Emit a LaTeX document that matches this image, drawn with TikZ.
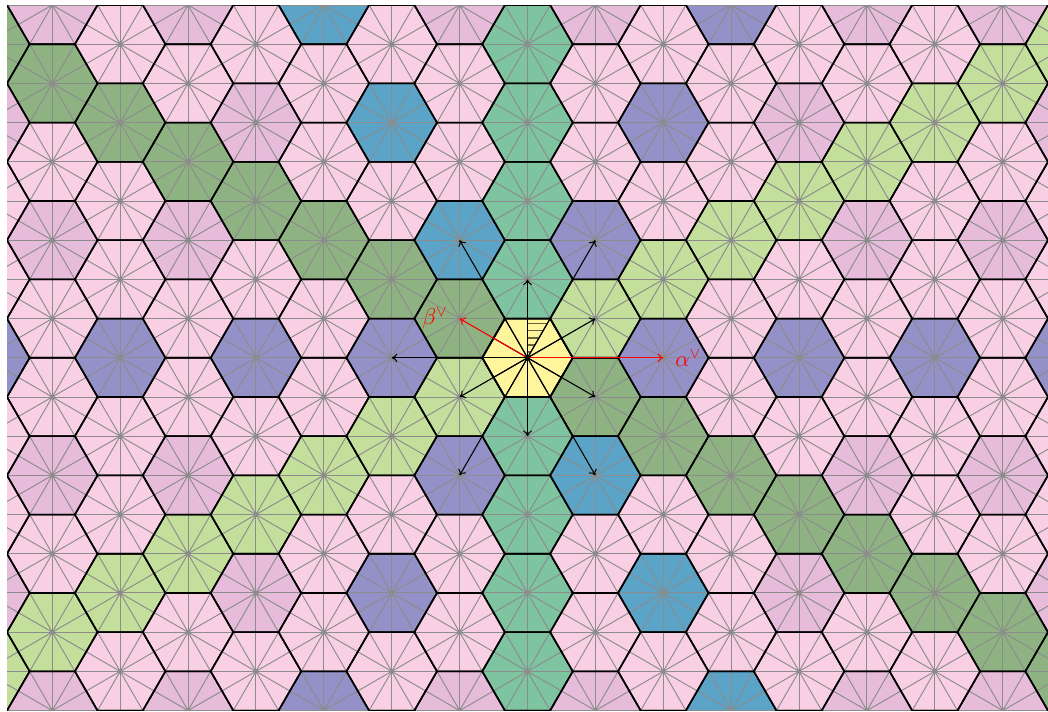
\documentclass[tikz,border=0pt]{standalone}
\usepackage{amsmath}
\usetikzlibrary{arrows.meta}
\definecolor{hexpink}{RGB}{249,207,227}
\definecolor{hexlilac}{RGB}{230,188,218}
\definecolor{hexpurple}{RGB}{148,144,200}
\definecolor{hexblue}{RGB}{91,163,199}
\definecolor{hexteal}{RGB}{126,196,160}
\definecolor{hexdkgreen}{RGB}{142,178,130}
\definecolor{hexltgreen}{RGB}{196,222,155}
\definecolor{hexyellow}{RGB}{255,245,157}
\definecolor{wallgray}{RGB}{140,140,140}
\definecolor{hatchcol}{RGB}{105,100,60}
\tikzset{
  wall/.style={draw=wallgray, line width=0.6pt},
  hexedge/.style={draw=black, line width=1pt, line join=round},
  coroot/.style={-{To[length=3.5pt,width=5.5pt]}, line width=0.65pt, color=black},
  simplecoroot/.style={coroot, color=red},
  rootlabel/.style={text=red, font=\Large}
}

\begin{document}
\begin{tikzpicture}
  \useasboundingbox (-11.655,-7.825) rectangle (11.5,7.905);
  \begin{scope}
    \clip (-11.5,-7.7942) rectangle (11.5,7.7942);
    % hexagons: fill, walls, centre dot
    \foreach \m in {-8,...,8}{
      \foreach \n in {-10,...,10}{
        \pgfmathtruncatemacro{\hpar}{mod(abs(\m+\n),2)}
        \ifnum\hpar=0
          \pgfmathtruncatemacro{\hthree}{mod(abs(\n),3)}
          \pgfmathtruncatemacro{\hup}{\n-3*\m}
          \pgfmathtruncatemacro{\hdown}{\n+3*\m}
          \pgfmathtruncatemacro{\hdiag}{\m-\n}
          \pgfmathtruncatemacro{\hanti}{\m+\n}
          \def\hcol{hexpink}
          \ifnum\hthree=0 \def\hcol{hexlilac}\fi
          \ifnum\n=0 \def\hcol{hexpurple}\fi
          \ifnum\hup=0 \def\hcol{hexpurple}\fi
          \ifnum\hdown=0 \def\hcol{hexblue}\fi
          \ifnum\hdiag=0 \def\hcol{hexltgreen}\fi
          \ifnum\hanti=0 \def\hcol{hexdkgreen}\fi
          \ifnum\m=0 \def\hcol{hexteal}\fi
          \ifnum\m=0 \ifnum\n=0 \def\hcol{hexyellow}\fi\fi
          \begin{scope}[shift={(1.5*\m,0.8660254*\n)}]
            \fill[\hcol] (0:1) -- (60:1) -- (120:1) -- (180:1) -- (240:1) -- (300:1) -- cycle;
            \foreach \a in {0,60,120}
              \draw[wall] (\a:1) -- (\a+180:1);
            \foreach \a in {30,90,150}
              \draw[wall] (\a:0.8660254) -- (\a+180:0.8660254);
            \fill[wallgray] (0,0) circle (0.055);
          \end{scope}
        \fi
      }
    }
    % hexagon outlines on top
    \foreach \m in {-8,...,8}{
      \foreach \n in {-10,...,10}{
        \pgfmathtruncatemacro{\hpar}{mod(abs(\m+\n),2)}
        \ifnum\hpar=0
          \draw[hexedge, shift={(1.5*\m,0.8660254*\n)}]
            (0:1) -- (60:1) -- (120:1) -- (180:1) -- (240:1) -- (300:1) -- cycle;
        \fi
      }
    }
  \end{scope}

  % fundamental alcove
  \foreach \y in {0.13,0.285,0.44,0.595,0.75}
    \draw[hatchcol, line width=0.8pt] (0,\y) -- ({\y*0.57735},\y);
  \foreach \a in {0,60,120}
    \draw[black, line width=0.6pt] (\a:1) -- (\a+180:1);
  \foreach \a in {30,90,150}
    \draw[black, line width=0.6pt] (\a:0.8660254) -- (\a+180:0.8660254);
  \draw[hexedge] (0:1) -- (60:1) -- (120:1) -- (180:1) -- (240:1) -- (300:1) -- cycle;

  \coordinate (O) at (0,0);
  \coordinate (up)   at (0,1.7320508);
  \coordinate (down) at (0,-1.7320508);
  \coordinate (ne)   at (1.5,0.8660254);
  \coordinate (nw)   at (-1.5,0.8660254);
  \coordinate (se)   at (1.5,-0.8660254);
  \coordinate (sw)   at (-1.5,-0.8660254);
  \coordinate (east) at (3,0);
  \coordinate (west) at (-3,0);
  \coordinate (nne)  at (1.5,2.5980762);
  \coordinate (nnw)  at (-1.5,2.5980762);
  \coordinate (sse)  at (1.5,-2.5980762);
  \coordinate (ssw)  at (-1.5,-2.5980762);

  \foreach \t in {up,down,ne,se,sw,west,nne,nnw,sse,ssw}
    \draw[coroot] (O) -- (\t);
  \draw[simplecoroot] (O) -- (east);
  \draw[simplecoroot] (O) -- (nw);
  \fill[black] (O) circle (0.055);

  \node[rootlabel, right=4pt] (alab) at (east) {$\alpha^\vee$};
  \node[rootlabel, left=4pt]  (blab) at (nw)   {$\beta^\vee$};
\end{tikzpicture}
\end{document}
